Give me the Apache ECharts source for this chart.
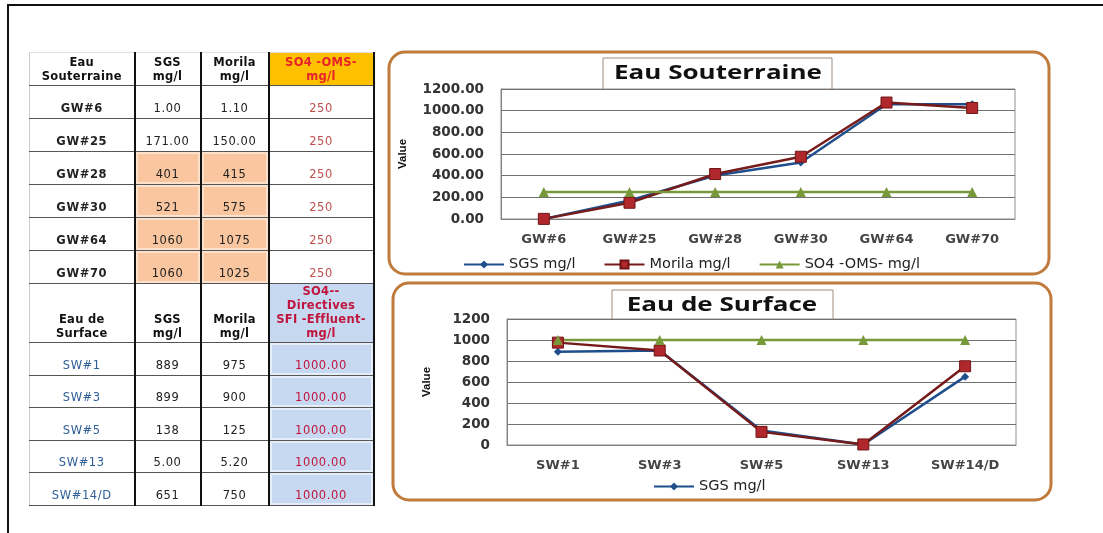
<!DOCTYPE html>
<html>
<head>
<meta charset="utf-8">
<title>Eau Souterraine / Eau de Surface</title>
<script src="https://cdn.jsdelivr.net/npm/echarts@6/dist/echarts.min.js"></script>
<style>
  html, body { margin: 0; padding: 0; background: #fff; }
  body { width: 1103px; height: 533px; position: relative; overflow: hidden; }
  #frame { position: absolute; left: 7px; top: 4px; width: 1200px; height: 600px;
           border-left: 2px solid #111; border-top: 2px solid #111; }
  #chart { position: absolute; left: 0; top: 0; width: 1103px; height: 533px; }
  #tbl { position: absolute; left: 29px; top: 52px; z-index: 2; }
  table { border-collapse: collapse; table-layout: fixed;
          font-family: 'DejaVu Sans', Verdana, sans-serif; font-size: 11.5px; color: #222; }
  td { box-sizing: border-box; border-left: 2px solid #111; border-right: 2px solid #111;
       border-bottom: 1.5px solid #555; text-align: center; vertical-align: bottom;
       padding: 0 1px 3px; height: 33px; letter-spacing: 0.6px; }
  tr.sw td { height: 32.6px; }
  td.c0 { border-left: 1px solid #ccc; }
  tr.h td { font-weight: bold; color: #111; line-height: 14px; letter-spacing: 0.3px; font-size: 11.5px; }
  tr.h1 td { vertical-align: middle; border-top: 1px solid #ddd; padding: 0; }
  tr.h2 td { height: 57px; padding-bottom: 2px; }
  td.gw { font-weight: bold; }
  td.sw { color: #2F5F98; }
  td.oms { color: #C0504D; }
  td.sfi { color: #C0143C; background: #C6D9F1; box-shadow: inset 0 0 0 2px #E4EDF8; }
  td.hi { background: #F9C6A0; box-shadow: inset 0 0 0 2px #FCE1CC; }
  td.omsh { background: #FFC000; color: #E8202A !important; }
  td.sfih { background: #C6D9F1; color: #C0143C !important; }
</style>
</head>
<body>
<div id="frame"></div>
<div id="chart"></div>
<div id="tbl"></div>
<script>
// Eau souterraine (valeurs telles qu'affichees dans le tableau)
var gwSites = ['GW#6', 'GW#25', 'GW#28', 'GW#30', 'GW#64', 'GW#70'];
var gwSgs = ['1.00', '171.00', '401', '521', '1060', '1060'];
var gwMorila = ['1.10', '150.00', '415', '575', '1075', '1025'];
var gwOms = ['250', '250', '250', '250', '250', '250'];

// Eau de surface
var swSites = ['SW#1', 'SW#3', 'SW#5', 'SW#13', 'SW#14/D'];
var swSgs = ['889', '899', '138', '5.00', '651'];
var swMorila = ['975', '900', '125', '5.20', '750'];
var swSfi = ['1000.00', '1000.00', '1000.00', '1000.00', '1000.00'];

var yTicks1 = [0, 1200, 200];   // min, max, interval
var yTicks2 = [0, 1200, 200];

function num(a) { return a.map(parseFloat); }

// --- tableau ---
var w = [105, 66, 68, 105];
var html = '<table><colgroup>';
w.forEach(function (x) { html += '<col style="width:' + x + 'px">'; });
html += '</colgroup>';
html += '<tr class="h h1"><td class="c0">Eau<br>Souterraine</td><td>SGS<br>mg/l</td><td>Morila<br>mg/l</td><td class="omsh">SO4 -OMS-<br>mg/l</td></tr>';
gwSites.forEach(function (s, i) {
  var hi = parseFloat(gwSgs[i]) > parseFloat(gwOms[i]) ? ' class="hi"' : '';
  html += '<tr><td class="c0 gw">' + s + '</td><td' + hi + '>' + gwSgs[i] + '</td><td' + hi + '>' +
    gwMorila[i] + '</td><td class="oms">' + gwOms[i] + '</td></tr>';
});
html += '<tr class="h h2"><td class="c0">Eau de<br>Surface</td><td>SGS<br>mg/l</td><td>Morila<br>mg/l</td><td class="sfih">SO4--<br>Directives<br>SFI -Effluent-<br>mg/l</td></tr>';
swSites.forEach(function (s, i) {
  html += '<tr class="sw"><td class="c0 sw">' + s + '</td><td>' + swSgs[i] + '</td><td>' + swMorila[i] +
    '</td><td class="sfi">' + swSfi[i] + '</td></tr>';
});
html += '</table>';
document.getElementById('tbl').innerHTML = html;

// --- graphiques ---
var chart = echarts.init(document.getElementById('chart'));

var axisFont = { fontFamily: 'DejaVu Sans', fontWeight: 'bold', fontSize: 13.5, color: '#333' };
var catFont = { fontFamily: 'DejaVu Sans', fontWeight: 'bold', fontSize: 13, color: '#444', margin: 14 };
var legendFont = { fontFamily: 'DejaVu Sans', fontSize: 14.5, color: '#222' };

// titre encadre, texte elargi comme dans l'original
function titleBox(text, x0, y0, x1, y1, cx, cy) {
  return {
    type: 'group', z: 100, children: [
      { type: 'rect', shape: { x: x0, y: y0, width: x1 - x0, height: y1 - y0 },
        style: { fill: '#fff', stroke: '#9C8C7E', lineWidth: 1 } },
      { type: 'text', x: cx, y: cy, scaleX: 1.3,
        style: { text: text, x: 0, y: 0, align: 'center', verticalAlign: 'middle',
                 fontFamily: 'Open Sans', fontWeight: 'bold', fontSize: 20, fill: '#111' } }
    ]
  };
}

function yAxis(idx, t, fmt, gap) {
  return {
    type: 'value', gridIndex: idx, min: t[0], max: t[1], interval: t[2],
    name: 'Value', nameLocation: 'middle', nameGap: gap, nameRotate: 90,
    nameTextStyle: { fontFamily: 'Liberation Sans', fontWeight: 'bold', fontSize: 11.5, color: '#111' },
    axisLine: { show: true, lineStyle: { color: '#808080' } },
    axisTick: { show: false },
    axisLabel: Object.assign({ formatter: fmt, margin: 17 }, axisFont),
    splitLine: { lineStyle: { color: '#707070', width: 1 } }
  };
}
function xAxis(idx, cats) {
  return {
    type: 'category', gridIndex: idx, data: cats, boundaryGap: true,
    axisLine: { lineStyle: { color: '#808080' } },
    axisTick: { show: false },
    axisLabel: catFont
  };
}
function lines(idx, sgs, morila, ref, refName) {
  return [
    { name: 'SGS mg/l', type: 'line', xAxisIndex: idx, yAxisIndex: idx, data: num(sgs),
      symbol: 'diamond', symbolSize: 8, color: '#1F4E8C',
      lineStyle: { width: 2.5, color: '#1F4E8C' } },
    { name: 'Morila mg/l', type: 'line', xAxisIndex: idx, yAxisIndex: idx, data: num(morila),
      symbol: 'rect', symbolSize: 11, color: '#B0282C',
      itemStyle: { color: '#B0282C', borderColor: '#701515', borderWidth: 1 },
      lineStyle: { width: 2.5, color: '#761A1A' } },
    { name: refName, type: 'line', xAxisIndex: idx, yAxisIndex: idx, data: num(ref),
      symbol: 'triangle', symbolSize: 10, color: '#78993A',
      lineStyle: { width: 2.5, color: '#78993A' } }
  ];
}

var option = {
  animation: false,
  graphic: [
    { type: 'rect', shape: { x: 389, y: 52, width: 660, height: 222, r: 16 },
      style: { fill: '#fff', stroke: '#C07A3C', lineWidth: 3 }, z: -10 },
    { type: 'rect', shape: { x: 393, y: 283, width: 658, height: 217, r: 16 },
      style: { fill: '#fff', stroke: '#C07A3C', lineWidth: 3 }, z: -10 },
    titleBox('Eau Souterraine', 603, 58, 832, 89, 718, 73),
    titleBox('Eau de Surface', 612, 290, 833, 319, 722, 305)
  ],
  legend: [
    { data: ['SGS mg/l', 'Morila mg/l', 'SO4 -OMS- mg/l'], left: 458, top: 252,
      itemWidth: 40, itemHeight: 10, itemGap: 28, textStyle: legendFont },
    { data: ['SGS mg/l'], left: 648, top: 474,
      itemWidth: 40, itemHeight: 10, textStyle: legendFont }
  ],
  grid: [
    { left: 501, top: 89, width: 514, height: 130, show: true, borderColor: '#909090', borderWidth: 1 },
    { left: 507, top: 319, width: 509, height: 126, show: true, borderColor: '#909090', borderWidth: 1 }
  ],
  xAxis: [xAxis(0, gwSites), xAxis(1, swSites)],
  yAxis: [
    yAxis(0, yTicks1, function (v) { return v.toFixed(2); }, 92),
    yAxis(1, yTicks2, function (v) { return String(v); }, 74)
  ],
  series: lines(0, gwSgs, gwMorila, gwOms, 'SO4 -OMS- mg/l')
    .concat(lines(1, swSgs, swMorila, swSfi, 'SO4-- Directives SFI -Effluent- mg/l'))
};
chart.setOption(option);
</script>
</body>
</html>
